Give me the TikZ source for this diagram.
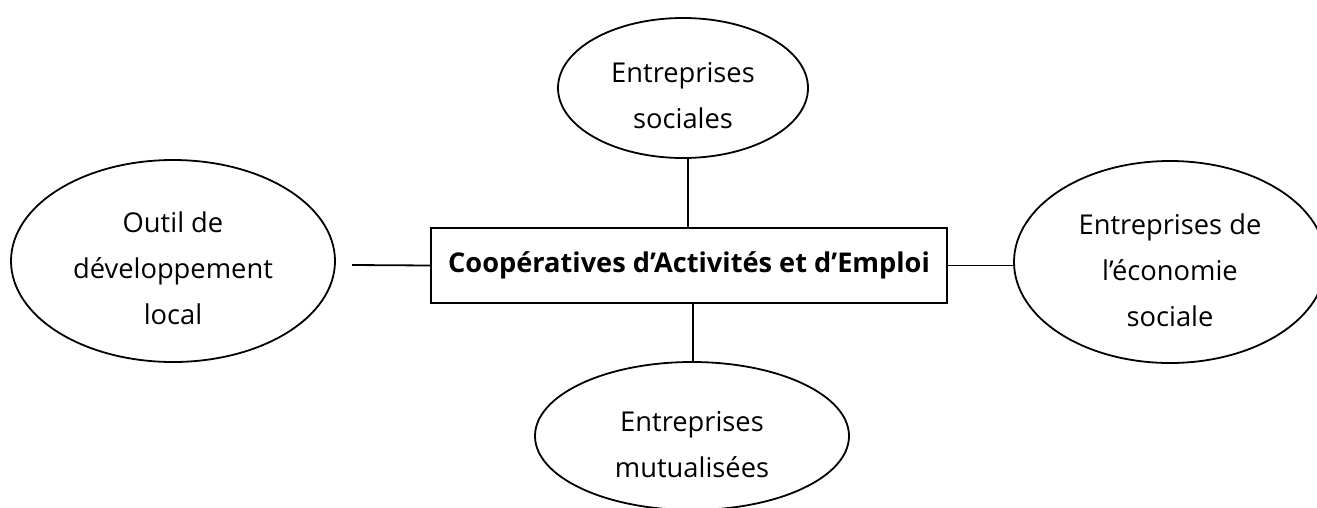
\documentclass[tikz,border=0pt]{standalone}
\usepackage{fontspec}
\setmainfont{Open Sans}
\usetikzlibrary{shapes.geometric}
\begin{document}
\begin{tikzpicture}[x=1pt,y=-1pt,
  every path/.style={line width=1.8pt},
  bubble/.style={draw, ellipse, inner sep=0pt, line width=1.8pt},
  bubtext/.style={align=center, font=\fontsize{27.3}{46}\selectfont, inner sep=0pt},
  centerbox/.style={draw, rectangle, inner sep=0pt, line width=1.6pt,
    minimum width=516pt, minimum height=75pt,
    font=\bfseries\fontsize{27.2}{30}\selectfont}]
\useasboundingbox (0,0) rectangle (1317,507);
\node[centerbox] (rect) at (689,265.5) {Coopératives d’Activités et d’Emploi};
\node[bubble, minimum width=250pt, minimum height=140pt,
  label={[bubtext, yshift=-8pt]center:Entreprises\\sociales}] (top) at (683,88) {};
\node[bubble, minimum width=324pt, minimum height=202pt,
  label={[bubtext, yshift=-7pt]center:Outil de\\développement\\local}] (left) at (173,261) {};
\node[bubble, minimum width=312pt, minimum height=202pt,
  label={[bubtext, yshift=-8pt]center:Entreprises de\\l’économie\\sociale}] (right) at (1170,262) {};
\node[bubble, minimum width=314pt, minimum height=148pt,
  label={[bubtext, yshift=-9pt]center:Entreprises\\mutualisées}] (bot) at (692,436) {};
\coordinate (lstart) at (352,265);
\draw ([xshift=-1pt]rect.north) -- ([xshift=-1pt]rect.north |- top.south);
\draw ([xshift=4pt]rect.south) -- ([xshift=4pt]rect.south |- bot.north);
\draw (lstart) -- (rect.west);
\draw (rect.east) -- (rect.east -| right.west);
\end{tikzpicture}
\end{document}
